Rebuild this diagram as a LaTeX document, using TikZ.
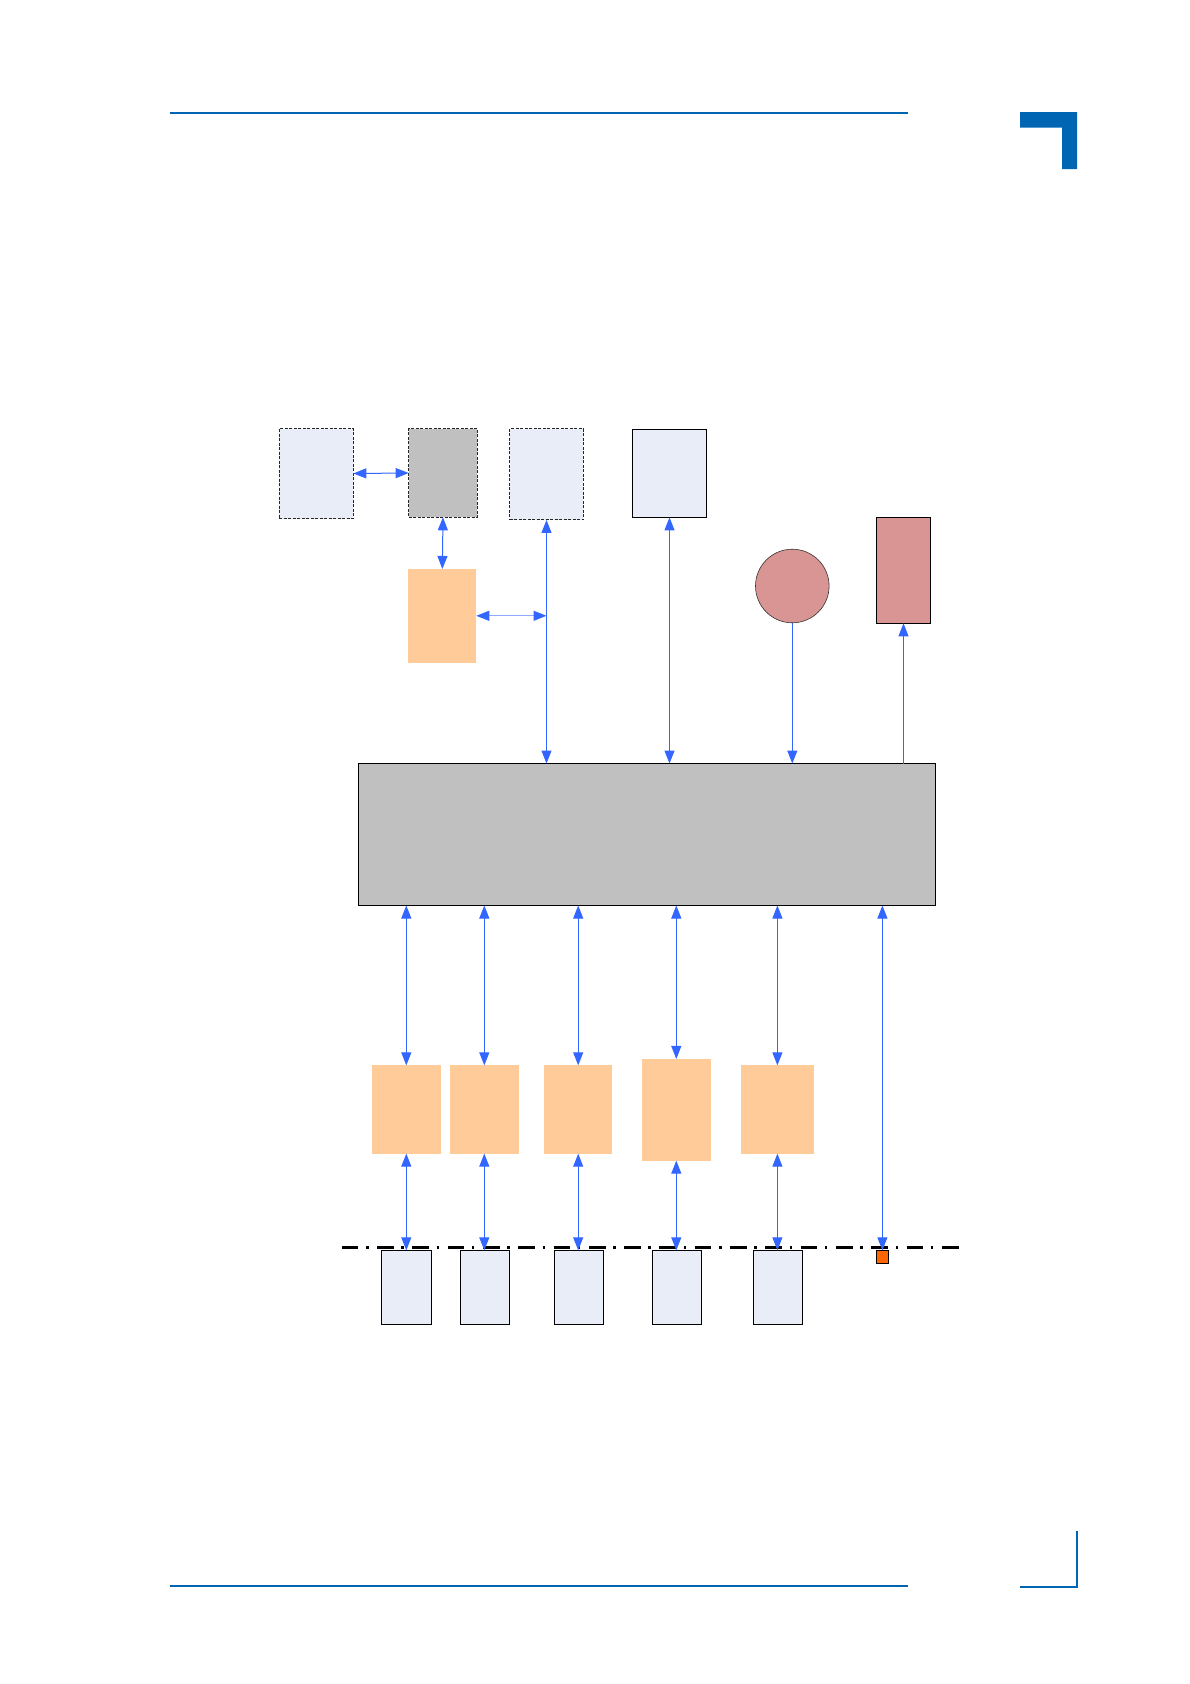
\documentclass[tikz,border=0pt]{standalone}
\usetikzlibrary{arrows.meta}
\definecolor{hdrblue}{HTML}{0066B3}
\definecolor{arrblue}{HTML}{3366FF}
\definecolor{paleblue}{HTML}{E8EDF7}
\definecolor{boxgray}{HTML}{C0C0C0}
\definecolor{peach}{HTML}{FFCC99}
\definecolor{rosered}{HTML}{D99594}
\definecolor{orangesq}{HTML}{FF6600}
\tikzset{
  every node/.style={inner sep=0pt, outer sep=0pt},
  dashbox/.style={draw=black!85, dash pattern=on 3pt off 1.5pt, line width=1pt, rectangle},
  solidbox/.style={draw=black, line width=1pt, rectangle},
  peachbox/.style={fill=peach, rectangle},
  conn/.style={draw=arrblue, line width=1pt},
  both/.style={conn, {Triangle[length=13pt,width=10pt]}-{Triangle[length=13pt,width=10pt]}},
  toend/.style={conn, -{Triangle[length=13pt,width=10pt]}},
}
\begin{document}
\begin{tikzpicture}[x=1pt,y=-1pt]
\useasboundingbox (0,0) rectangle (1190,1684);
% page frame
\draw[hdrblue, line width=2pt] (169.7,112.8) -- (907.5,112.8);
\draw[hdrblue, line width=2pt] (169.7,1586.3) -- (907.5,1586.3);
\fill[hdrblue] (1020,112) -- (1077,112) -- (1077,169) -- (1062,169) -- (1062,127.7) -- (1020,127.7) -- cycle;
\draw[hdrblue, line width=2pt] (1077,1531) -- (1077,1587) -- (1020,1587);
% upper boxes
\node[dashbox, fill=paleblue, minimum width=74pt, minimum height=90pt] (A) at (316.3,473.5) {};
\node[dashbox, fill=boxgray, minimum width=68.6pt, minimum height=88.6pt] (B) at (443,473) {};
\node[dashbox, fill=paleblue, minimum width=73.6pt, minimum height=91.3pt] (C) at (546.5,474.3) {};
\node[peachbox, minimum width=68pt, minimum height=93.7pt] (D) at (442.3,615.8) {};
\node[solidbox, fill=paleblue, minimum width=74.4pt, minimum height=88.3pt] (E) at (669.5,473.2) {};
\node[circle, draw=black!80, line width=0.6pt, fill=rosered, minimum size=73.6pt] (circ) at (792.3,586) {};
\node[solidbox, fill=rosered, minimum width=54.4pt, minimum height=106pt] (F) at (903.5,570.3) {};
% main box
\node[solidbox, fill=boxgray, minimum width=577pt, minimum height=142pt] (M) at (647,834.5) {};
% lower peach boxes
\node[peachbox, minimum width=68.6pt, minimum height=88.3pt] (O1) at (406.3,1109.5) {};
\node[peachbox, minimum width=68.6pt, minimum height=88.3pt] (O2) at (484.3,1109.5) {};
\node[peachbox, minimum width=68.5pt, minimum height=88.3pt] (O3) at (578.2,1109.5) {};
\node[peachbox, minimum width=69pt, minimum height=101.7pt] (O4) at (676.3,1109.8) {};
\node[peachbox, minimum width=72.7pt, minimum height=88.3pt] (O5) at (777.4,1109.5) {};
% bottom boxes
\node[solidbox, fill=paleblue, minimum width=49.8pt, minimum height=74pt] (L1) at (406.3,1287.3) {};
\node[solidbox, fill=paleblue, minimum width=49.4pt, minimum height=74pt] (L2) at (484.9,1287.3) {};
\node[solidbox, fill=paleblue, minimum width=49pt, minimum height=74pt] (L3) at (579,1287.3) {};
\node[solidbox, fill=paleblue, minimum width=49pt, minimum height=74pt] (L4) at (676.9,1287.3) {};
\node[solidbox, fill=paleblue, minimum width=49pt, minimum height=74pt] (L5) at (777.7,1287.3) {};
\node[draw=black, line width=0.7pt, fill=orangesq, minimum width=12pt, minimum height=13pt] (Q) at (882.4,1256.8) {};
% dash-dot boundary line
\coordinate (dl) at (341.7,1247.8);
\coordinate (dr) at (958.5,1247.8);
\draw[black, line width=2.7pt, dash pattern=on 16.7pt off 7.6pt on 2.5pt off 8.5pt] (dl) -- (dr);
% upper connectors
\draw[both] (A.east) -- (B.west);
\draw[both] (B.south) -- (D.north);
\coordinate (J) at (C.south |- D.east);
\draw[conn, draw=arrblue!55, {Triangle[length=13pt,width=10pt,color=arrblue]}-{Triangle[length=13pt,width=10pt,color=arrblue]}] (D.east) -- (J);
\draw[both] (C.south) -- (C.south |- M.north);
\draw[both] (E.south) -- (E.south |- M.north);
\draw[toend] (circ.south) -- (circ.south |- M.north);
\draw[toend] (F.south |- M.north) -- (F.south);
% lower connectors
\foreach \n in {O1,O2,O3,O4,O5}{
  \draw[both] (\n.north |- M.south) -- (\n.north);
}
\draw[both] (Q.north |- M.south) -- (Q.north);
\draw[both] (O1.south) -- (O1.south |- L1.north);
\draw[both] (O2.south) -- (O2.south |- L2.north);
\draw[both] (O3.south) -- (O3.south |- L3.north);
\draw[both] (O4.south) -- (O4.south |- L4.north);
\draw[both] (O5.south) -- (O5.south |- L5.north);
\end{tikzpicture}
\end{document}
